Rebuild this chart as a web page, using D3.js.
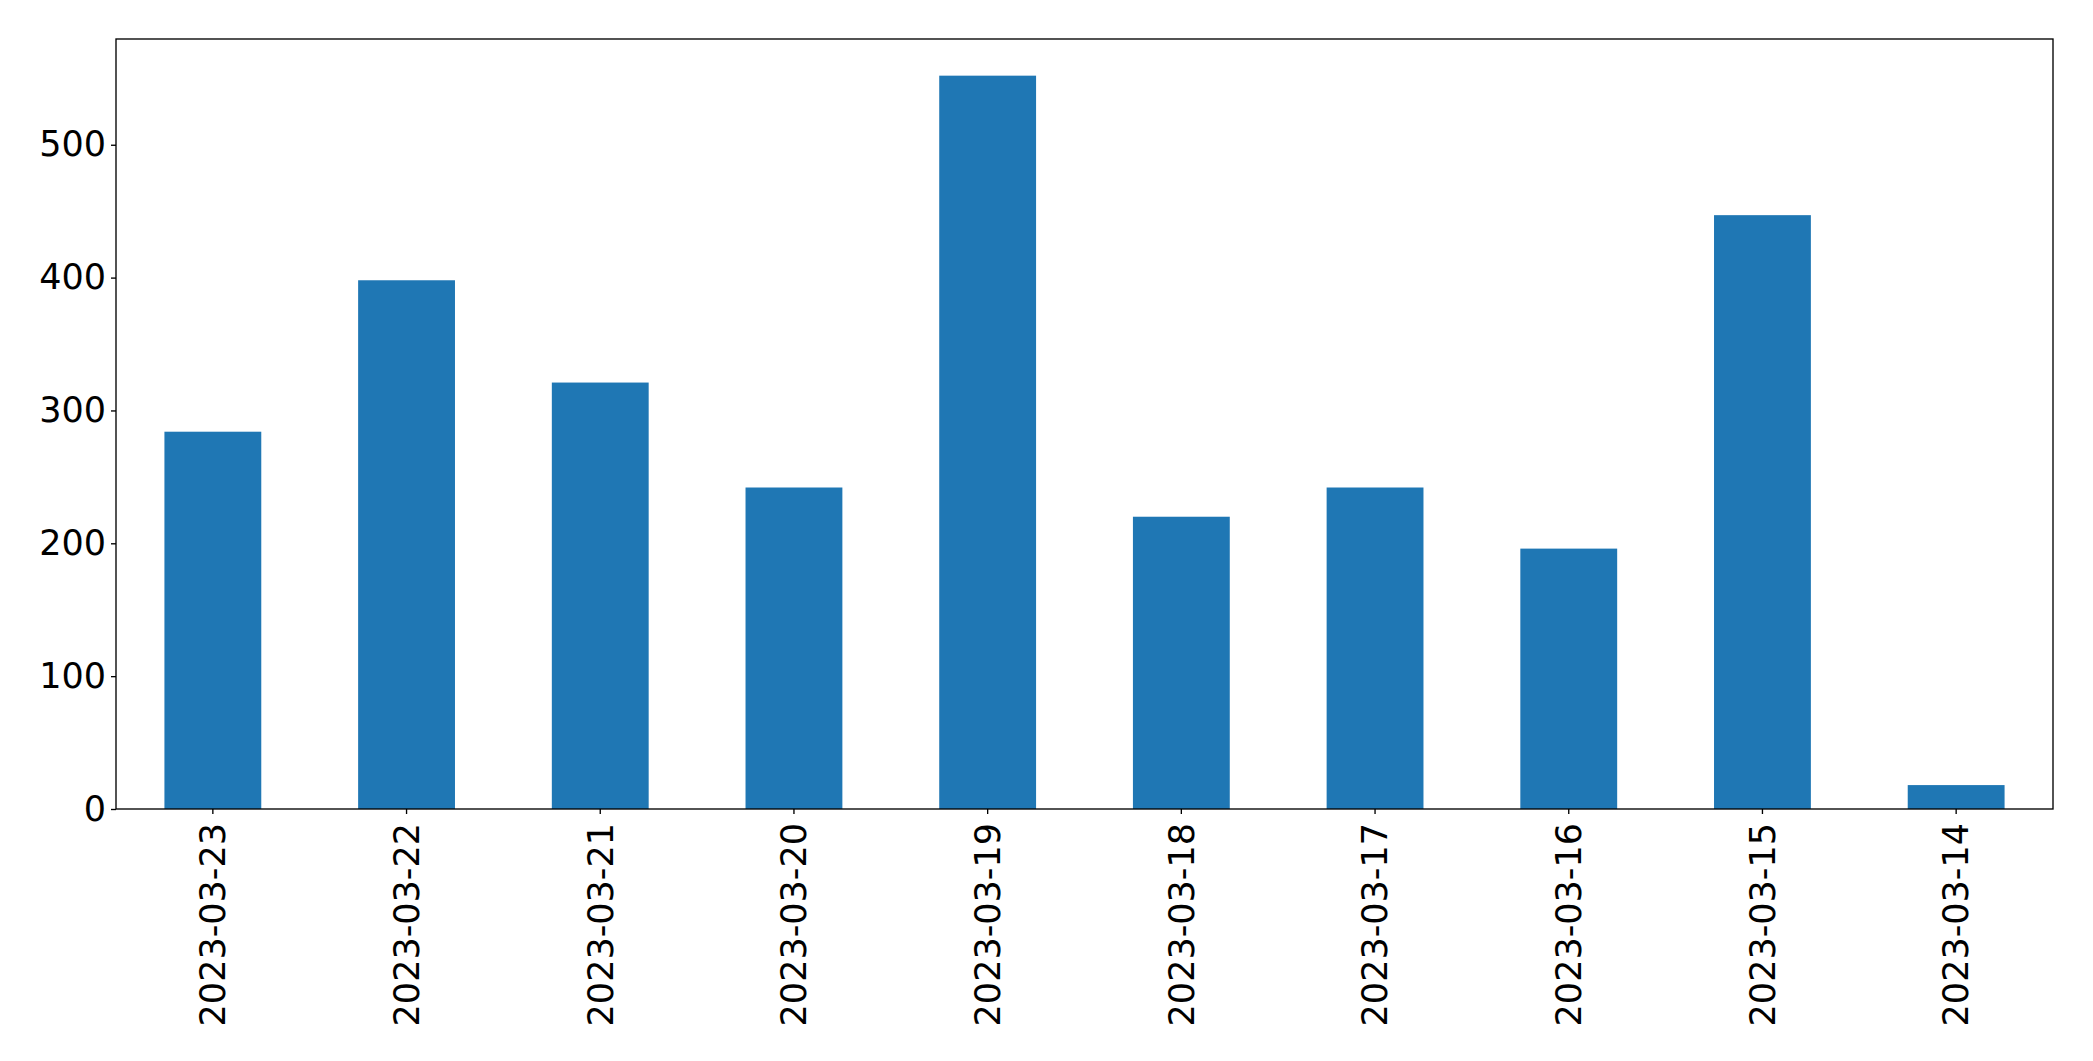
<!DOCTYPE html>
<html>
<head>
<meta charset="utf-8">
<script src="https://cdn.jsdelivr.net/npm/d3@7"></script>
<style>
  html, body { margin: 0; padding: 0; background: #fff; }
  svg { display: block; }
  text { font-family: "DejaVu Sans", sans-serif; fill: #000; }
</style>
</head>
<body>
<script>
const categories = ["2023-03-23","2023-03-22","2023-03-21","2023-03-20","2023-03-19","2023-03-18","2023-03-17","2023-03-16","2023-03-15","2023-03-14"];
const values = [284, 398, 321, 242, 552, 220, 242, 196, 447, 18];
const yTicks = [0, 100, 200, 300, 400, 500];

const W = 2093, H = 1061;
const margin = {left: 116, right: W - 2053, top: 39, bottom: H - 809};
const iw = W - margin.left - margin.right;
const ih = H - margin.top - margin.bottom;

const svg = d3.select("body").append("svg").attr("width", W).attr("height", H);
const g = svg.append("g").attr("transform", `translate(${margin.left},${margin.top})`);

const x = d3.scaleBand().domain(categories).range([0, iw]).paddingInner(0.5).paddingOuter(0.25);
const y = d3.scaleLinear().domain([0, d3.max(values) * 1.05]).range([ih, 0]);

g.selectAll("rect.bar").data(values).join("rect")
  .attr("class", "bar")
  .attr("x", (d, i) => x(categories[i]))
  .attr("width", x.bandwidth())
  .attr("y", d => y(d))
  .attr("height", d => y(0) - y(d))
  .attr("fill", "#1f77b4");

const yAxis = g.append("g").call(d3.axisLeft(y).tickValues(yTicks).tickSize(5).tickPadding(5).tickFormat(d3.format("d")));
const xAxis = g.append("g").attr("transform", `translate(0,${ih})`).call(d3.axisBottom(x).tickSize(5).tickPadding(8));

[yAxis, xAxis].forEach(a => {
  a.select(".domain").remove();
  a.selectAll(".tick line").attr("stroke", "#000").attr("stroke-width", 1.35);
  a.selectAll(".tick text").attr("font-size", 35).attr("font-family", "DejaVu Sans, sans-serif");
});

xAxis.selectAll(".tick text")
  .attr("transform", "rotate(-90)")
  .attr("text-anchor", "end")
  .attr("x", -14)
  .attr("y", 0)
  .attr("dy", "0.35em");

g.append("rect").attr("x", 0).attr("y", 0).attr("width", iw).attr("height", ih)
  .attr("fill", "none").attr("stroke", "#000").attr("stroke-width", 1.35);
</script>
</body>
</html>
